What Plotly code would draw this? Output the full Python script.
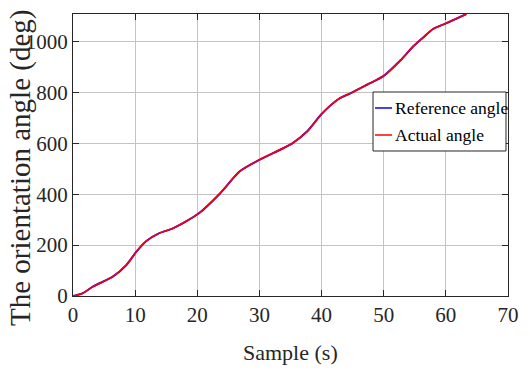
import plotly.graph_objects as go

# Data
time_s = [0, 1.5, 3.2, 6.4, 8.6, 10.2, 11.8, 13.9, 16.1, 20.2, 23.7, 26.8,
          30, 35.3, 37.7, 40, 42.8, 44.8, 47.3, 50, 52.7, 54.8, 56.4, 58, 60, 63.3]
reference_angle = [0, 10, 37, 76, 122, 174, 216, 247, 266, 324, 404, 489,
                   535, 600, 647, 715, 775, 798, 830, 865, 926, 982, 1017, 1050, 1071, 1108]
actual_angle = [0, 10, 37, 76, 122, 174, 216, 247, 266, 324, 404, 489,
                535, 600, 647, 715, 775, 798, 830, 865, 926, 982, 1017, 1050, 1071, 1108]
series_names = ["Reference angle", "Actual angle"]
series_colors = ["#0000ff", "#ff0000"]

FONT = "Liberation Serif"

fig = go.Figure()
fig.add_trace(go.Scatter(x=time_s, y=reference_angle, mode="lines", name=series_names[0],
                         line=dict(color=series_colors[0], width=2, shape="spline", smoothing=0.7),
                         showlegend=False))
fig.add_trace(go.Scatter(x=time_s, y=actual_angle, mode="lines", name=series_names[1],
                         line=dict(color=series_colors[1], width=1.6, shape="spline", smoothing=0.7),
                         showlegend=False))

axis_common = dict(
    showline=True, linecolor="#262626", linewidth=1.2, mirror="ticks",
    ticks="inside", ticklen=6, tickcolor="#262626",
    showgrid=True, gridcolor="#c4c4c4", gridwidth=1, zeroline=False,
    tickfont=dict(family=FONT, size=21, color="#262626"),
)
fig.update_xaxes(range=[0, 70], dtick=10, tick0=0, **axis_common)
fig.update_yaxes(range=[0, 1108], dtick=200, tick0=0, **axis_common)

# Axis titles
fig.add_annotation(text="Sample (s)", xref="paper", yref="paper", x=0.499, y=-0.199,
                   xanchor="center", yanchor="middle", showarrow=False,
                   font=dict(family=FONT, size=22, color="#262626"))
fig.add_annotation(text="The orientation angle (deg)", xref="paper", yref="paper",
                   x=-0.1195, y=0.454, xanchor="center", yanchor="middle", textangle=-90,
                   showarrow=False, font=dict(family=FONT, size=29, color="#262626"))

# Legend (drawn manually to match compact MATLAB style)
fig.add_shape(type="rect", xref="paper", yref="paper", x0=0.6897, x1=0.9954, y0=0.5142, y1=0.7234,
              line=dict(color="#262626", width=1), fillcolor="white", layer="above")
legend_y = [0.6667, 0.5709]
for name, color, ly in zip(series_names, series_colors, legend_y):
    fig.add_shape(type="line", xref="paper", yref="paper", x0=0.6943, x1=0.7333, y0=ly, y1=ly,
                  line=dict(color=color, width=1.5), layer="above")
    fig.add_annotation(text=name, xref="paper", yref="paper", x=0.7356, y=ly,
                       xanchor="left", yanchor="middle", showarrow=False,
                       font=dict(family=FONT, size=17.5, color="#000000"))

fig.update_layout(
    width=530, height=371,
    margin=dict(l=73, r=22, t=14, b=75),
    paper_bgcolor="white", plot_bgcolor="white",
    showlegend=False,
)

fig.write_html("out.html")
